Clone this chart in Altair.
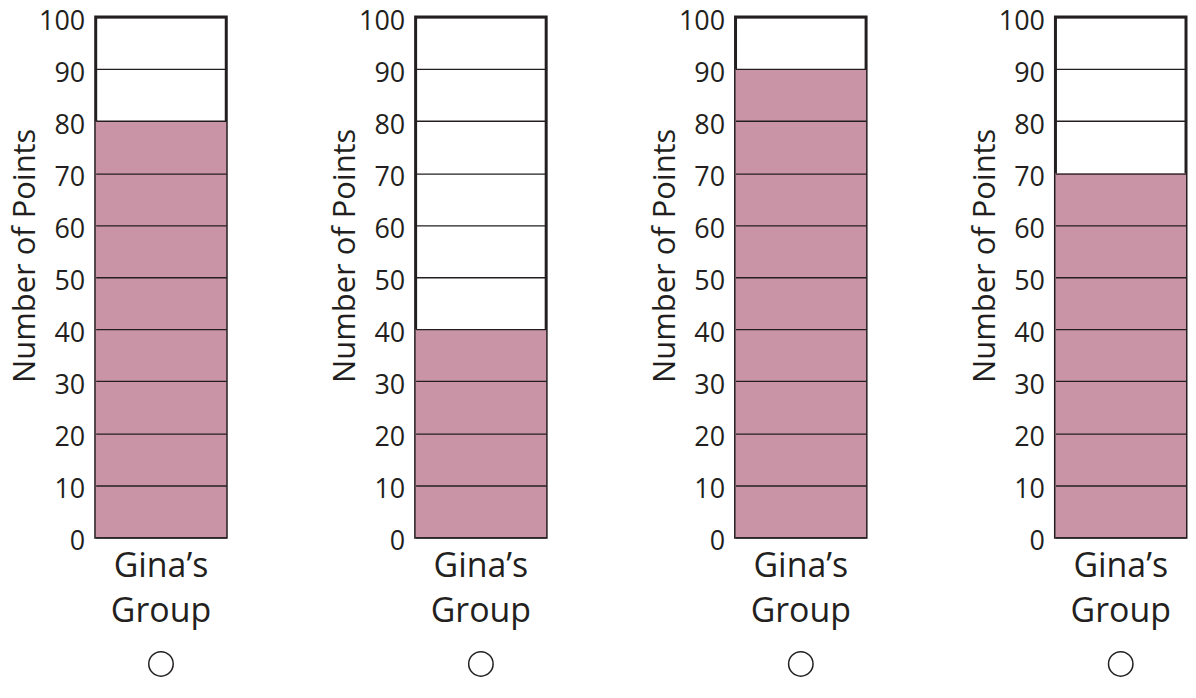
import altair as alt
import pandas as pd

# ---- data ----
groups = ["Gina’s Group"]
panel_values = [80, 40, 90, 70]
y_ticks = [0, 10, 20, 30, 40, 50, 60, 70, 80, 90, 100]

W, H = 131, 522
BAR = "#C994A6"
INK = "#231F20"
FONT = "Open Sans"


def panel(v):
    df = pd.DataFrame({"group": groups, "points": [v]})
    base = alt.Chart(df)
    bars = base.mark_bar(color=BAR).encode(
        x=alt.X(
            "group:N",
            title=None,
            scale=alt.Scale(paddingInner=0, paddingOuter=0),
            axis=alt.Axis(
                title=None,
                labelExpr="split(datum.label, ' ')",
                labelFontSize=34,
                labelLineHeight=45,
                labelPadding=12,
                labelAngle=0,
                ticks=False,
                tickSize=0,
                domain=False,
                labelColor=INK,
                labelFont=FONT,
            ),
        ),
        y=alt.Y(
            "points:Q",
            scale=alt.Scale(domain=[0, 100], nice=False),
            axis=alt.Axis(
                title="Number of Points",
                values=y_ticks,
                grid=True,
                gridColor=INK,
                gridWidth=1.3,
                gridOpacity=1,
                ticks=False,
                tickSize=0,
                domain=False,
                labelFontSize=27,
                labelPadding=11,
                labelOffset=4,
                labelColor=INK,
                labelFont=FONT,
                titleFont=FONT,
                titleFontSize=31,
                titleFontWeight="normal",
                titleColor=INK,
                titlePadding=-3,
                titleY=H / 2 - 22,
                zindex=1,
            ),
        ),
    )
    circle = base.mark_point(
        shape="circle", size=600, filled=False, stroke=INK, strokeWidth=1.5, opacity=1
    ).encode(
        x=alt.X("group:N", title=None),
        y=alt.value(H + 127),
    )
    return alt.layer(bars, circle).properties(width=W, height=H)


chart = (
    alt.hconcat(*[panel(v) for v in panel_values], spacing=100)
    .properties(padding={"left": 0, "top": -4, "right": 0, "bottom": 0}, background="white")
    .configure_view(stroke=INK, strokeWidth=3)
)

chart.save("out.html", embed_options={"renderer": "svg", "actions": False})
